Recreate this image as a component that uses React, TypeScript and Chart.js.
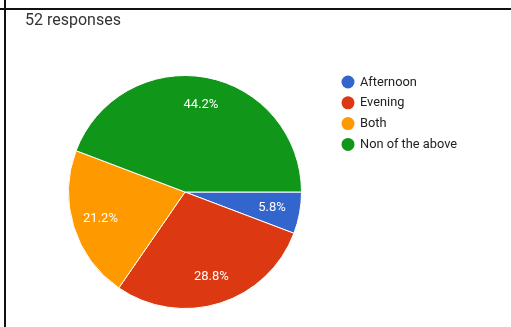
import React, { useEffect, useRef } from "react";
import { Chart, registerables } from "chart.js";

Chart.register(...registerables);

const titleText = "52 responses";
const categories = ["Afternoon", "Evening", "Both", "Non of the above"];
const counts = [3, 15, 11, 23];
const percentLabels = ["5.8%", "28.8%", "21.2%", "44.2%"];
const colors = ["#3366cc", "#dc3912", "#ff9900", "#109618"];

const FONT = "Roboto, 'Noto Sans', Arial, sans-serif";

const overlayPlugin = {
  id: "overlay",
  afterDatasetsDraw(chart: any) {
    const ctx = chart.ctx as CanvasRenderingContext2D;
    const meta = chart.getDatasetMeta(0);
    ctx.save();
    // slice labels
    ctx.fillStyle = "#ffffff";
    ctx.font = `13px ${FONT}`;
    ctx.textAlign = "center";
    ctx.textBaseline = "middle";
    meta.data.forEach((arc: any, i: number) => {
      const { x, y, startAngle, endAngle, outerRadius } = arc.getProps(
        ["x", "y", "startAngle", "endAngle", "outerRadius"],
        true
      );
      const mid = (startAngle + endAngle) / 2;
      const r = outerRadius * 0.76;
      ctx.fillText(percentLabels[i], x + Math.cos(mid) * r, y + Math.sin(mid) * r);
    });
    // title
    ctx.fillStyle = "#333333";
    ctx.font = `16px ${FONT}`;
    ctx.textAlign = "left";
    ctx.textBaseline = "middle";
    ctx.fillText(titleText, 25, 21);
    // legend
    const labels = chart.data.labels as string[];
    const bg = chart.data.datasets[0].backgroundColor as string[];
    ctx.font = `12.8px ${FONT}`;
    labels.forEach((lab, i) => {
      const cy = 82 + i * 20.8;
      ctx.beginPath();
      ctx.fillStyle = bg[i];
      ctx.arc(348, cy, 6.5, 0, Math.PI * 2);
      ctx.fill();
      ctx.fillStyle = "#222222";
      ctx.fillText(lab, 360, cy + 0.5);
    });
    ctx.restore();
  },
};

export default function App() {
  const ref = useRef<HTMLCanvasElement | null>(null);
  useEffect(() => {
    if (!ref.current) return;
    const chart = new Chart(ref.current, {
      type: "pie",
      data: {
        labels: categories,
        datasets: [
          {
            data: counts,
            backgroundColor: colors,
            borderColor: "#ffffff",
            borderWidth: 1,
          },
        ],
      },
      options: {
        responsive: false,
        animation: false,
        rotation: 90,
        layout: { padding: { left: 68, top: 75, right: 209, bottom: 18 } },
        plugins: {
          legend: { display: false },
          tooltip: { enabled: false },
          title: { display: false },
        },
      },
      plugins: [overlayPlugin],
    });
    return () => chart.destroy();
  }, []);
  return (
    <div style={{ position: "fixed", left: 0, top: 0, width: 511, height: 327, background: "#fff" }}>
      <canvas ref={ref} width={511} height={327} style={{ position: "absolute", left: 0, top: 0 }} />
      <div style={{ position: "absolute", left: 0, top: 8, width: 511, height: 2, background: "#111" }} />
      <div style={{ position: "absolute", left: 4, top: 0, width: 2, height: 327, background: "#111" }} />
    </div>
  );
}
